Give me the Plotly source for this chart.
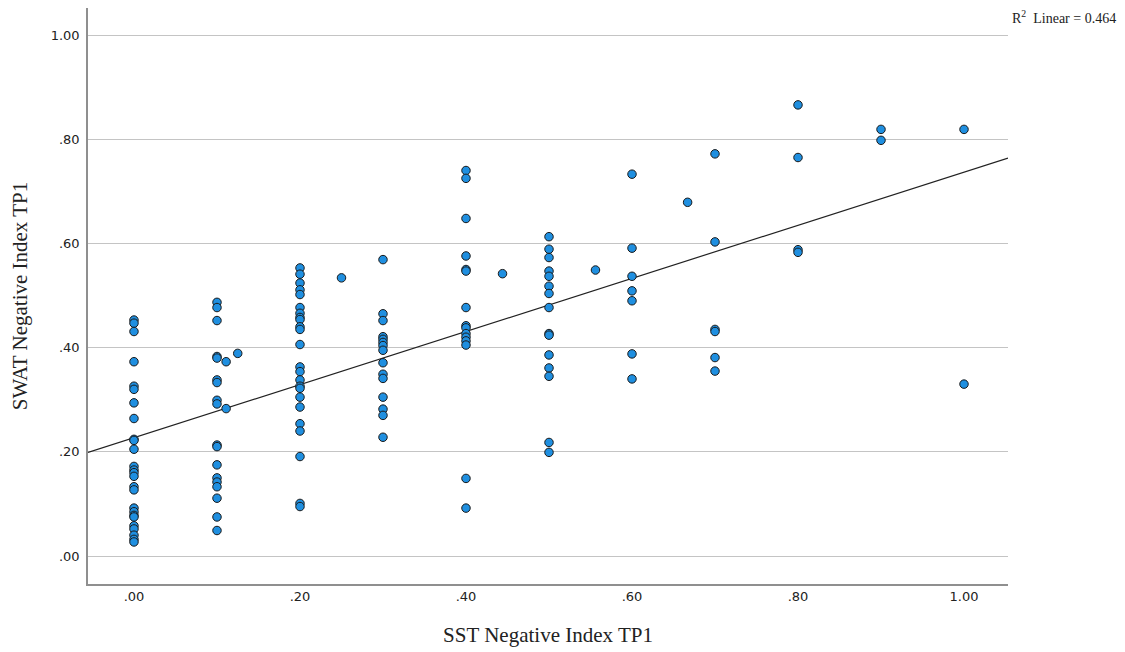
import numpy as np
import plotly.graph_objects as go

# ---- data ----
x_00 = [0.0] * 26
y_00 = [0.453, 0.447, 0.431, 0.373, 0.326, 0.320, 0.294, 0.264, 0.224, 0.222, 0.205,
        0.172, 0.165, 0.160, 0.153, 0.133, 0.127, 0.092, 0.085, 0.078, 0.075, 0.058,
        0.052, 0.040, 0.032, 0.027]
x_10 = [0.1] * 18 + [0.111, 0.125, 0.111]
y_10 = [0.487, 0.477, 0.452, 0.383, 0.380, 0.338, 0.333, 0.299, 0.292, 0.213, 0.210,
        0.175, 0.150, 0.142, 0.133, 0.111, 0.075, 0.049, 0.373, 0.389, 0.283]
x_20 = [0.2] * 24 + [0.25]
y_20 = [0.553, 0.541, 0.524, 0.511, 0.502, 0.477, 0.466, 0.458, 0.454, 0.440, 0.435,
        0.406, 0.363, 0.354, 0.338, 0.326, 0.322, 0.305, 0.286, 0.254, 0.240, 0.191,
        0.101, 0.095, 0.534]
x_30 = [0.3] * 15
y_30 = [0.569, 0.465, 0.452, 0.421, 0.416, 0.410, 0.404, 0.395, 0.371, 0.349, 0.341,
        0.305, 0.282, 0.270, 0.228]
x_40 = [0.4] * 15 + [0.444]
y_40 = [0.740, 0.725, 0.648, 0.576, 0.550, 0.547, 0.477, 0.442, 0.438, 0.427, 0.420,
        0.413, 0.405, 0.149, 0.092, 0.542]
x_50 = [0.5] * 15 + [0.556]
y_50 = [0.613, 0.589, 0.573, 0.547, 0.537, 0.518, 0.504, 0.477, 0.427, 0.424, 0.386,
        0.361, 0.345, 0.218, 0.199, 0.549]
x_60 = [0.6] * 7 + [0.667]
y_60 = [0.733, 0.591, 0.537, 0.509, 0.490, 0.388, 0.340, 0.679]
x_70 = [0.7] * 6
y_70 = [0.772, 0.603, 0.435, 0.431, 0.381, 0.355]
x_80 = [0.8] * 4
y_80 = [0.866, 0.765, 0.588, 0.583]
x_90 = [0.9] * 2
y_90 = [0.819, 0.798]
x_100 = [1.0] * 2
y_100 = [0.819, 0.330]

tick_vals = [0.0, 0.2, 0.4, 0.6, 0.8, 1.0]
tick_text = [".00", ".20", ".40", ".60", ".80", "1.00"]
r2_text = "R<sup>2</sup>  Linear = 0.464"

sst = np.array(x_00 + x_10 + x_20 + x_30 + x_40 + x_50 + x_60 + x_70 + x_80 + x_90 + x_100)
swat = np.array(y_00 + y_10 + y_20 + y_30 + y_40 + y_50 + y_60 + y_70 + y_80 + y_90 + y_100)

x_range = [-0.0554, 1.053]
y_range = [-0.0537, 1.052]

slope, intercept = np.polyfit(sst, swat, 1)
fit_x = np.array(x_range)
fit_y = intercept + slope * fit_x

fig = go.Figure()
fig.add_trace(go.Scatter(
    x=fit_x, y=fit_y, mode="lines",
    line=dict(color="#222222", width=1.2),
    hoverinfo="skip", showlegend=False,
))
fig.add_trace(go.Scatter(
    x=sst, y=swat, mode="markers",
    marker=dict(size=8.5, color="#1f8fe0", line=dict(color="#1a1a1a", width=1)),
    showlegend=False,
))

serif = "Liberation Serif, Times New Roman, serif"
tick_font = dict(family="DejaVu Sans, Verdana, sans-serif", size=13, color="#222222")

# page body adds an 8px offset, so the figure is 1117x644 and margins are relative to that
fig.update_layout(
    width=1117, height=644,
    margin=dict(l=80, r=117, t=0, b=68),
    paper_bgcolor="white", plot_bgcolor="white",
    font=dict(family="DejaVu Sans, sans-serif", size=13, color="#222222"),
    showlegend=False,
)
fig.update_xaxes(
    range=x_range, tickvals=tick_vals, ticktext=tick_text,
    showgrid=False, zeroline=False,
    showline=True, linecolor="#8f8f8f", linewidth=1.6,
    ticks="", tickfont=tick_font,
    title=dict(text="SST Negative Index TP1",
               font=dict(family=serif, size=21, color="#222222"),
               standoff=24),
)
fig.update_yaxes(
    range=y_range, tickvals=tick_vals, ticktext=tick_text,
    showgrid=True, gridcolor="#c4c4c4", gridwidth=1, zeroline=False,
    showline=True, linecolor="#8f8f8f", linewidth=1.6,
    ticks="", tickfont=tick_font, ticklabelstandoff=4,
    title=dict(text="SWAT Negative Index TP1",
               font=dict(family=serif, size=21, color="#222222"),
               standoff=20),
)
fig.add_annotation(
    x=1.0, y=1.0, xref="paper", yref="paper",
    xanchor="left", yanchor="top", xshift=2, yshift=2,
    text=r2_text, showarrow=False,
    font=dict(family=serif, size=14, color="#222222"),
)

fig.write_html("out.html")
